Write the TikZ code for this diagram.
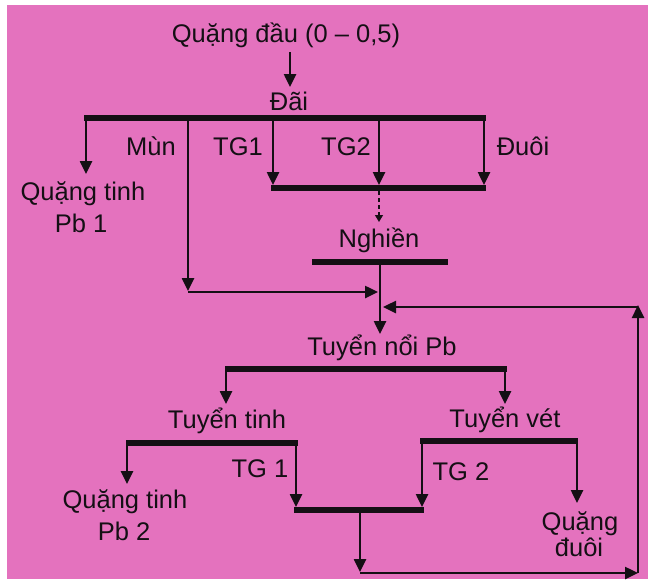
\documentclass[tikz,border=0pt]{standalone}
\usepackage{fontspec}
\setmainfont{Liberation Sans}
\usetikzlibrary{arrows.meta}
\definecolor{bgpink}{RGB}{228,114,190}
\definecolor{ink}{RGB}{20,15,20}
\begin{document}
\begin{tikzpicture}[x=1pt,y=-1pt,
  lbl/.style={anchor=base, inner sep=0pt, text=ink, font=\fontsize{25.5}{30}\selectfont},
  bar/.style={draw=ink, line width=5.5pt},
  arr/.style={draw=ink, line width=2.5pt, -{Triangle[length=13pt,width=12pt]}},
  darr/.style={draw=ink, line width=1.3pt, dash pattern=on 4pt off 3pt, -{Triangle[length=7pt,width=8pt]}},
]
\fill[white] (0,0) rectangle (652,579);
\fill[bgpink] (7,5) rectangle (648,579);
\useasboundingbox (0,0) rectangle (652,579);

% labels
\node[lbl] (title) at (286,42) {Quặng đầu (0 – 0,5)};
\node[lbl] (dai) at (289,110) {Đãi};
\node[lbl] (mun) at (151,155) {Mùn};
\node[lbl] (tg1) at (238,155) {TG1};
\node[lbl] (tg2) at (346,155) {TG2};
\node[lbl] (duoi) at (523,155) {Đuôi};
\node[lbl] (qt1a) at (83,200) {Quặng tinh};
\node[lbl] (qt1b) at (81,232) {Pb 1};
\node[lbl] (nghien) at (379,247) {Nghiền};
\node[lbl] (tnoi) at (382,355) {Tuyển nổi Pb};
\node[lbl] (ttinh) at (227,428) {Tuyển tinh};
\node[lbl] (tvet) at (505,427) {Tuyển vét};
\node[lbl] (tga) at (260,477) {TG 1};
\node[lbl] (tgb) at (461,480) {TG 2};
\node[lbl] (qt2a) at (125,508) {Quặng tinh};
\node[lbl] (qt2b) at (124,540) {Pb 2};
\node[lbl] (qda) at (580,530) {Quặng};
\node[lbl] (qdb) at (579,556) {đuôi};

% coordinates
\coordinate (t1) at (290,52);
\coordinate (t2) at (290,87);
% Dai bar
\coordinate (b1L) at (84,118);
\coordinate (b1R) at (486,118);
\coordinate (d1a) at (86,118);  \coordinate (d1b) at (86,174);
\coordinate (m1) at (188,118);  \coordinate (m2) at (188,291); \coordinate (m2h) at (188,292); \coordinate (m3) at (378,292);
\coordinate (g1a) at (273,118); \coordinate (g1b) at (273,185);
\coordinate (g2a) at (379,118); \coordinate (g2b) at (379,185);
\coordinate (dua) at (484,118); \coordinate (dub) at (484,185);
% collecting bar
\coordinate (b2L) at (271,188);
\coordinate (b2R) at (486,188);
\coordinate (ds1) at (379,191); \coordinate (ds2) at (379,222);
% Nghien bar
\coordinate (b3L) at (312,262);
\coordinate (b3R) at (448,262);
\coordinate (v1) at (380,262); \coordinate (v2) at (380,334);
% recycle
\coordinate (r1) at (638,573); \coordinate (r2) at (638,305);
\coordinate (r3) at (638,307); \coordinate (r4) at (383,307);
% flotation bar
\coordinate (b4L) at (225,369);
\coordinate (b4R) at (507,369);
\coordinate (f1a) at (226,369); \coordinate (f1b) at (226,404);
\coordinate (f2a) at (505,369); \coordinate (f2b) at (505,404);
% cleaner bar
\coordinate (b5L) at (126,443);
\coordinate (b5R) at (298,443);
\coordinate (c1a) at (127,443); \coordinate (c1b) at (127,484);
\coordinate (c2a) at (296,443); \coordinate (c2b) at (296,507);
% scavenger bar
\coordinate (b6L) at (420,441);
\coordinate (b6R) at (578,441);
\coordinate (s1a) at (422,441); \coordinate (s1b) at (422,507);
\coordinate (s2a) at (577,441); \coordinate (s2b) at (577,503);
% middlings bar
\coordinate (b7L) at (294,510);
\coordinate (b7R) at (424,510);
\coordinate (u1) at (360,510); \coordinate (u2) at (360,572);
\coordinate (u3) at (360,573);

% bars
\draw[bar] (b1L) -- (b1R);
\draw[bar] (b2L) -- (b2R);
\draw[bar] (b3L) -- (b3R);
\draw[bar] (b4L) -- (b4R);
\draw[bar] (b5L) -- (b5R);
\draw[bar] (b6L) -- (b6R);
\draw[bar] (b7L) -- (b7R);

% arrows
\draw[arr] (t1) -- (t2);
\draw[arr] (d1a) -- (d1b);
\draw[arr] (m1) -- (m2);
\draw[arr] (m2h) -- (m3);
\draw[arr] (g1a) -- (g1b);
\draw[arr] (g2a) -- (g2b);
\draw[arr] (dua) -- (dub);
\draw[darr] (ds1) -- (ds2);
\draw[arr] (v1) -- (v2);
\draw[arr] (f1a) -- (f1b);
\draw[arr] (f2a) -- (f2b);
\draw[arr] (c1a) -- (c1b);
\draw[arr] (c2a) -- (c2b);
\draw[arr] (s1a) -- (s1b);
\draw[arr] (s2a) -- (s2b);
\draw[arr] (u1) -- (u2);
\draw[arr] (u3) -- (r1);
\draw[arr] (r1) -- (r2);
\draw[arr] (r3) -- (r4);
\end{tikzpicture}
\end{document}
